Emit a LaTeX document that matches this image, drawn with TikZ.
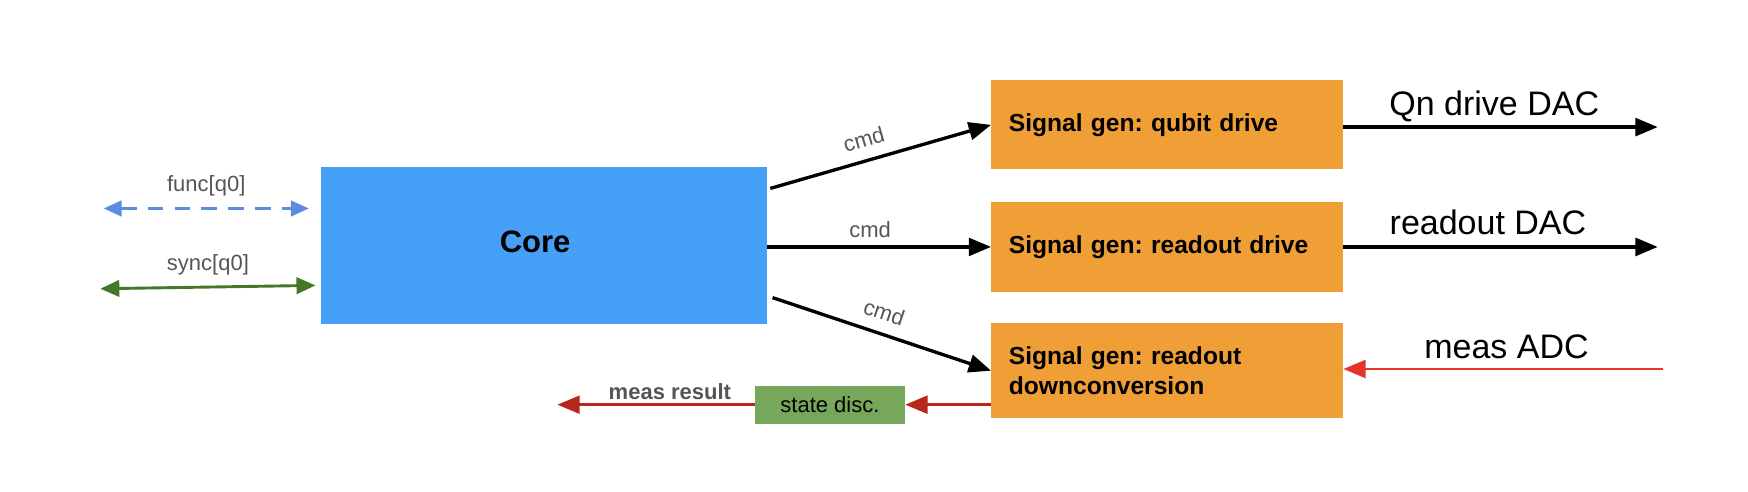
\documentclass[tikz,border=0pt]{standalone}
\usepackage{fontspec}
\setmainfont{Liberation Sans}
\usetikzlibrary{arrows.meta,calc}
\definecolor{coreblue}{RGB}{71,160,248}
\definecolor{sgorange}{RGB}{240,159,55}
\definecolor{sdgreen}{RGB}{119,167,90}
\definecolor{funcblue}{RGB}{92,140,224}
\definecolor{syncgreen}{RGB}{68,120,40}
\definecolor{darkred}{RGB}{185,38,30}
\definecolor{brightred}{RGB}{230,52,40}
\definecolor{lblgray}{RGB}{85,85,85}
\frenchspacing
\begin{document}
\begin{tikzpicture}[x=0.5574pt,y=-0.5574pt,
  box/.style={draw=none,inner sep=0pt,outer sep=0pt},
  sgbox/.style={box,fill=sgorange,minimum width=176.14pt,text width=158.3pt,align=left,font=\bfseries\fontsize{12.3}{15}\selectfont},
  lbl/.style={text=lblgray,font=\fontsize{11}{13}\selectfont,inner sep=2pt},
  biglbl/.style={text=black,font=\fontsize{17}{20}\selectfont,inner sep=0pt,anchor=base},
  conn/.style={line width=1.67pt,-{Triangle[length=11.15pt,width=8.9pt]}},
  thin/.style={line width=1.45pt},
]
\useasboundingbox (0,0) rectangle (1568,441);
\fill[white] (0,0) rectangle (1568,441);

\node[box,fill=coreblue,minimum width=222.96pt,minimum height=78.59pt] (core) at (488,220.5) {};
\node[font=\bfseries\fontsize{15.5}{18}\selectfont,inner sep=0pt] (coretext) at (480,217) {Core};
\node[sgbox,minimum height=44.59pt] (sg1) at (1047,112) {Signal gen: qubit drive};
\node[sgbox,minimum height=45.15pt] (sg2) at (1047,221.5) {Signal gen: readout drive};
\node[sgbox,minimum height=47.38pt] (sg3) at (1047,332.5) {Signal gen: readout\\downconversion};
\node[box,fill=sdgreen,minimum width=75.25pt,minimum height=18.95pt,font=\fontsize{11}{13}\selectfont] (sd) at (744.5,363) {state disc.};

% left signals
\coordinate (fL) at (93,187);
\coordinate (fR) at (277,187);
\coordinate (sL) at (90,259);
\coordinate (sR) at (283,256);
\draw[funcblue,thin,dash pattern=on 7.8pt off 5.6pt,{Triangle[length=9pt,width=7.8pt]}-{Triangle[length=9pt,width=7.8pt]}] (fL) -- node[lbl,above=3.5pt]{func[q0]} (fR);
\draw[syncgreen,thin,{Triangle[length=9.5pt,width=8.2pt]}-{Triangle[length=9.5pt,width=8.2pt]}] (sL) -- node[lbl,above=3.5pt]{sync[q0]} (sR);

% cmd connectors
\coordinate (c1) at ($(core.north east)+(3,19)$);
\coordinate (c3) at ($(core.south east)+(5,-24)$);
\draw[conn] (c1) -- node[lbl,above=3.8pt,sloped,pos=0.45]{cmd} (sg1.west);
\draw[conn] (core.east |- sg2.west) -- node[lbl,above=1.7pt,pos=0.46]{cmd} (sg2.west);
\draw[conn] (c3) -- node[lbl,above=3.8pt,sloped,pos=0.48]{cmd} (sg3.west);

% outputs
\coordinate (o1) at (1487,114);
\coordinate (o2) at (1487,221.5);
\coordinate (i3) at (1492,331);
\draw[conn] (sg1.east |- o1) -- node[biglbl,yshift=6pt,pos=0.48]{Qn drive DAC} (o1);
\draw[conn] (sg2.east) -- node[biglbl,yshift=6pt,pos=0.46]{readout DAC} (o2);
\draw[brightred,thin,-{Triangle[length=11.15pt,width=8.9pt]}] (i3) -- node[biglbl,yshift=5.5pt,pos=0.49]{meas ADC} (sg3.east |- i3);

% measurement result path
\coordinate (mr) at (500,363);
\draw[darkred,thin,-{Triangle[length=11.15pt,width=8.9pt]}] (sg3.west |- sd.east) -- (sd.east);
\draw[darkred,thin,-{Triangle[length=11.15pt,width=8.9pt]}] (sd.west) -- node[lbl,above=0pt,pos=0.43,font=\bfseries\fontsize{11}{13}\selectfont]{meas result} (mr);
\end{tikzpicture}
\end{document}
